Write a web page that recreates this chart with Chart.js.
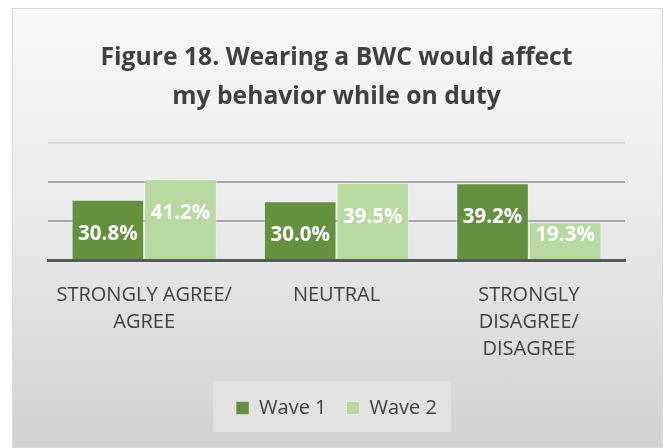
<!DOCTYPE html>
<html>
<head>
<meta charset="utf-8">
<title>Figure 18</title>
<script src="https://cdn.jsdelivr.net/npm/chart.js@4.4.1/dist/chart.umd.min.js"></script>
<style>
  html, body { margin: 0; padding: 0; background: #ffffff; overflow: hidden; }
  #frame {
    position: absolute; left: 12px; top: 8px; width: 651px; height: 440px;
    box-sizing: border-box; border: 1px solid #d9d9d9;
    background: linear-gradient(to bottom, #f8f8f8 0%, #ececec 45%, #d1d1d1 100%);
  }
  #myChart { position: absolute; left: -1px; top: -1px; }
</style>
</head>
<body>
<div id="frame">
  <canvas id="myChart" width="651" height="440"></canvas>
</div>
<script>
// Survey answers, per response group
const categories = [['STRONGLY AGREE/', 'AGREE'], ['NEUTRAL'], ['STRONGLY', 'DISAGREE/', 'DISAGREE']];
const wave1 = [30.8, 30.0, 39.2];
const wave2 = [41.2, 39.5, 19.3];
const seriesNames = ['Wave 1', 'Wave 2'];
const yTicks = [0, 20, 40, 60];

const darkGreen = '#64913f';
const lightGreen = '#b8d9a0';
const textColor = '#404040';

// Lighter panel behind the legend entries
const legendPanel = {
    id: 'legendPanel',
    beforeDraw(chart) {
        const boxes = chart.legend && chart.legend.legendHitBoxes;
        if (!boxes || !boxes.length) return;
        const first = boxes[0];
        const last = boxes[boxes.length - 1];
        const mid = first.top + first.height / 2;
        const ctx = chart.ctx;
        ctx.save();
        ctx.fillStyle = '#e2e2e2';
        ctx.fillRect(first.left - 23, mid - 27, last.left + last.width + 14 - (first.left - 23), 51);
        ctx.restore();
    }
};

// White value labels near the top of each bar
const barLabels = {
    id: 'barLabels',
    afterDatasetsDraw(chart) {
        const ctx = chart.ctx;
        ctx.save();
        ctx.font = 'bold 20.5px "Open Sans"';
        ctx.fillStyle = '#ffffff';
        ctx.textAlign = 'center';
        ctx.textBaseline = 'middle';
        chart.data.datasets.forEach((ds, i) => {
            chart.getDatasetMeta(i).data.forEach((bar, j) => {
                const y = Math.min(bar.y + 34, bar.base - 24);
                ctx.fillText(ds.data[j].toFixed(1) + '%', bar.x, y);
            });
        });
        ctx.restore();
    }
};

const myChart = new Chart(document.getElementById('myChart'), {
    type: 'bar',
    data: {
        labels: categories,
        datasets: [{
            label: seriesNames[0],
            data: wave1,
            backgroundColor: darkGreen,
            borderColor: 'rgba(255,255,255,0.35)',
            borderWidth: 1
        }, {
            label: seriesNames[1],
            data: wave2,
            backgroundColor: lightGreen,
            borderColor: 'rgba(255,255,255,0.45)',
            borderWidth: 1
        }]
    },
    options: {
        responsive: false,
        devicePixelRatio: 1,
        animation: false,
        categoryPercentage: 0.755,
        barPercentage: 1.0,
        layout: { padding: { left: 36, right: 38, top: 0, bottom: 20 } },
        plugins: {
            title: {
                display: true,
                text: ['Figure 18. Wearing a BWC would affect', 'my behavior while on duty'],
                color: textColor,
                font: { family: 'Open Sans', size: 24.7, weight: 'bold', lineHeight: 1.57 },
                padding: { top: 31, bottom: 26 }
            },
            legend: {
                position: 'bottom',
                labels: {
                    color: textColor,
                    font: { family: 'Open Sans', size: 20 },
                    boxWidth: 13,
                    boxHeight: 13,
                    padding: 20
                }
            },
            tooltip: { enabled: false }
        },
        scales: {
            x: {
                grid: { display: false, drawTicks: false },
                border: { color: '#595959', width: 3 },
                ticks: {
                    color: textColor,
                    font: { family: 'Open Sans', size: 20, lineHeight: 1.35 },
                    padding: 22,
                    maxRotation: 0,
                    autoSkip: false
                },
                afterFit(scale) {
                    scale.height = 118;
                }
            },
            y: {
                min: yTicks[0],
                max: yTicks[yTicks.length - 1],
                ticks: { display: false, stepSize: yTicks[1] - yTicks[0] },
                border: { display: false },
                grid: {
                    drawTicks: false,
                    lineWidth: 2,
                    color: ctx => {
                        const v = ctx.tick.value;
                        if (v === yTicks[0]) return 'rgba(0,0,0,0)';
                        if (v === yTicks[yTicks.length - 1]) return '#d8d8d8';
                        return '#a6a6a6';
                    }
                }
            }
        }
    },
    plugins: [legendPanel, barLabels]
});
</script>
</body>
</html>
